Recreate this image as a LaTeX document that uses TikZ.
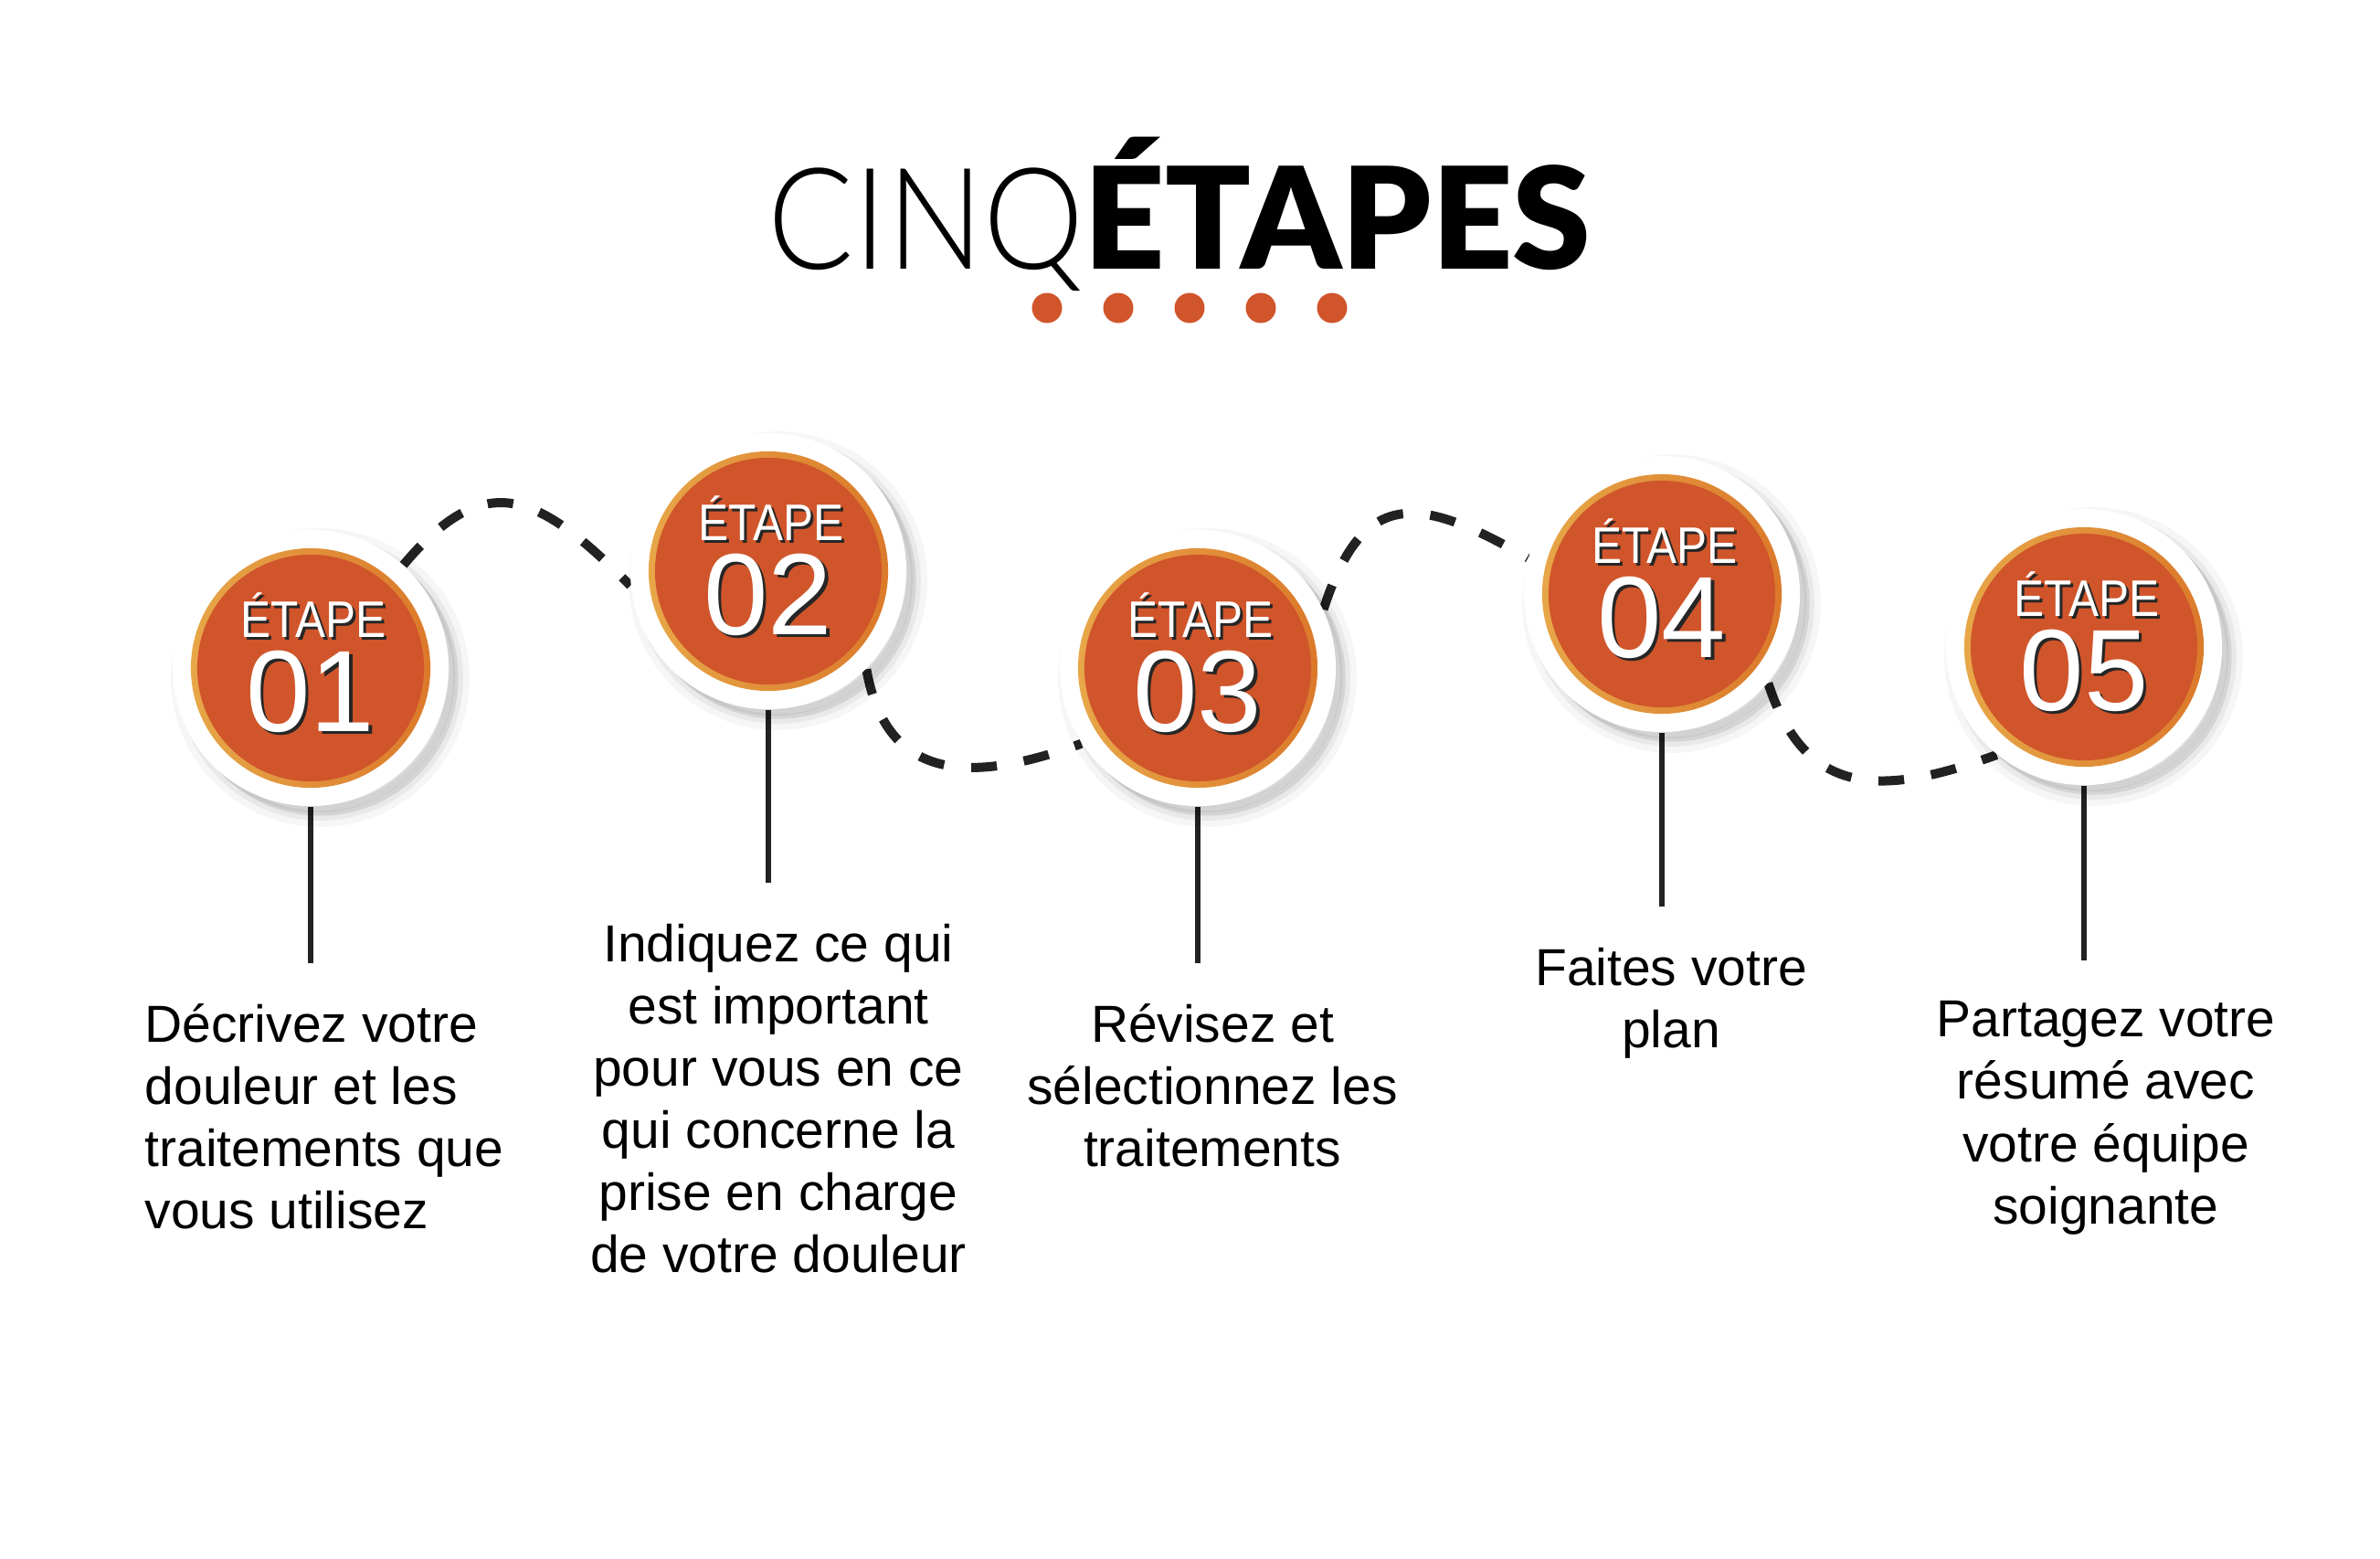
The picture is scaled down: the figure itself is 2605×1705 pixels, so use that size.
\documentclass[tikz,border=0pt]{standalone}
\usepackage{fontspec}
\setmainfont{Liberation Sans}
\newfontfamily\stepfont{Liberation Sans}[FakeStretch=0.88]
\newfontfamily\numfont{Liberation Sans}
\newfontfamily\titlelight{Lato Light}[FakeStretch=0.9]
\newfontfamily\titleheavy{Lato Black}
\usepackage{tikz}
\usetikzlibrary{
  calc,
  positioning,
  backgrounds
}
\definecolor{stepred}{HTML}{D0552B}
\definecolor{ringgold}{HTML}{E8AA4A}
\definecolor{ringorange}{HTML}{DA7628}
\definecolor{inkdark}{HTML}{222222}
% white label with a dark copy just behind it
\newcommand\shtext[1]{\makebox[0pt][l]{\kern0.9pt\raisebox{-0.9pt}{\color{black!85}#1}}#1}

\begin{document}
\begin{tikzpicture}[x=0.01cm,y=0.01cm,
  stepdisc/.style={circle,inner sep=0pt,minimum size=3.02cm,fill=white,
    preaction={draw=black,fill=black,line width=7pt,opacity=0.035,
      transform canvas={shift={(3pt,-3pt)}}},
    preaction={draw=black,fill=black,line width=3pt,opacity=0.05,
      transform canvas={shift={(3pt,-3pt)}}},
    preaction={fill=black,opacity=0.06,
      transform canvas={shift={(2pt,-2pt)}}},
    path picture={
      \shade[left color=ringgold,right color=ringorange]
        (path picture bounding box.center) circle (1.31cm);
      \fill[stepred] (path picture bounding box.center) circle (1.24cm);}},
  etape/.style={text=white,inner sep=0pt,anchor=base,text depth=0pt,
    font=\stepfont\fontsize{16}{16}\selectfont},
  stepnum/.style={text=white,inner sep=0pt,anchor=base,text height=0.72em,
    font=\numfont\fontsize{36}{36}\selectfont},
  body/.style={inner sep=0pt,align=center,anchor=north,
    font=\fontsize{16.2}{19.35}\selectfont},
  stem/.style={draw=inkdark,line width=1.9pt,shorten >=0.44cm},
  wave/.style={draw=inkdark,line width=2.85pt,dash pattern=on 8pt off 8.5pt}
]
  \useasboundingbox (0,0) rectangle (2605,-1705);

  % title
  \node[inner sep=0pt,anchor=base,font=\fontsize{44}{44}\selectfont] (ttl) at (1291,-294)
    {{\titlelight CINQ}{\titleheavy ÉTAPES}};
  \foreach \k in {0,...,4}
    \fill[stepred] (1146+78*\k,-337) circle (16.5);

  % the five steps
  \node[stepdisc] (s1) at (340,-731)  {};
  \node[stepdisc] (s2) at (841,-625)  {};
  \node[stepdisc] (s3) at (1311,-731) {};
  \node[stepdisc] (s4) at (1819,-650) {};
  \node[stepdisc] (s5) at (2281,-708) {};

  \node[etape] (e1) at (343,-697)  {\shtext{ÉTAPE}};
  \node[etape] (e2) at (844,-591)  {\shtext{ÉTAPE}};
  \node[etape] (e3) at (1314,-697) {\shtext{ÉTAPE}};
  \node[etape] (e4) at (1822,-616) {\shtext{ÉTAPE}};
  \node[etape] (e5) at (2284,-674) {\shtext{ÉTAPE}};

  \node[stepnum] (n1) at (340,-800)  {\shtext{01}};
  \node[stepnum] (n2) at (841,-694)  {\shtext{02}};
  \node[stepnum] (n3) at (1311,-800) {\shtext{03}};
  \node[stepnum] (n4) at (1819,-719) {\shtext{04}};
  \node[stepnum] (n5) at (2281,-777) {\shtext{05}};

  % texts
  \node[body,align=left,anchor=north west] (t1) at (158,-1098)
    {Décrivez votre\\douleur et les\\traitements que\\vous utilisez};
  \node[body] (t2) at (852,-1010)
    {Indiquez ce qui\\est important\\pour vous en ce\\qui concerne la\\prise en charge\\de votre douleur};
  \node[body] (t3) at (1327,-1098)
    {Révisez et\\sélectionnez les\\traitements};
  \node[body] (t4) at (1829,-1036)
    {Faites votre\\plan};
  \node[body] (t5) at (2305,-1095)
    {Partagez votre\\résumé avec\\votre équipe\\soignante};

  \begin{scope}[on background layer]
    \fill[white] (0,0) rectangle (2605,-1705);
    \draw[wave] (s1.48)  to[out=50,in=135,looseness=1.45] (s2.186);
    \draw[wave] (s2.-45) to[out=-80,in=200,looseness=1.3]  (s3.213);
    \draw[wave] (s3.25)  to[out=72,in=150,looseness=1.55]  (s4.165);
    \draw[wave] (s4.-40) to[out=-72,in=200,looseness=1.3]  (s5.231);
    \draw[stem] (s1.south) -- (s1.south |- t1.north);
    \draw[stem] (s2.south) -- (s2.south |- t2.north);
    \draw[stem] (s3.south) -- (s3.south |- t3.north);
    \draw[stem] (s4.south) -- (s4.south |- t4.north);
    \draw[stem] (s5.south) -- (s5.south |- t5.north);
  \end{scope}
\end{tikzpicture}
\end{document}
